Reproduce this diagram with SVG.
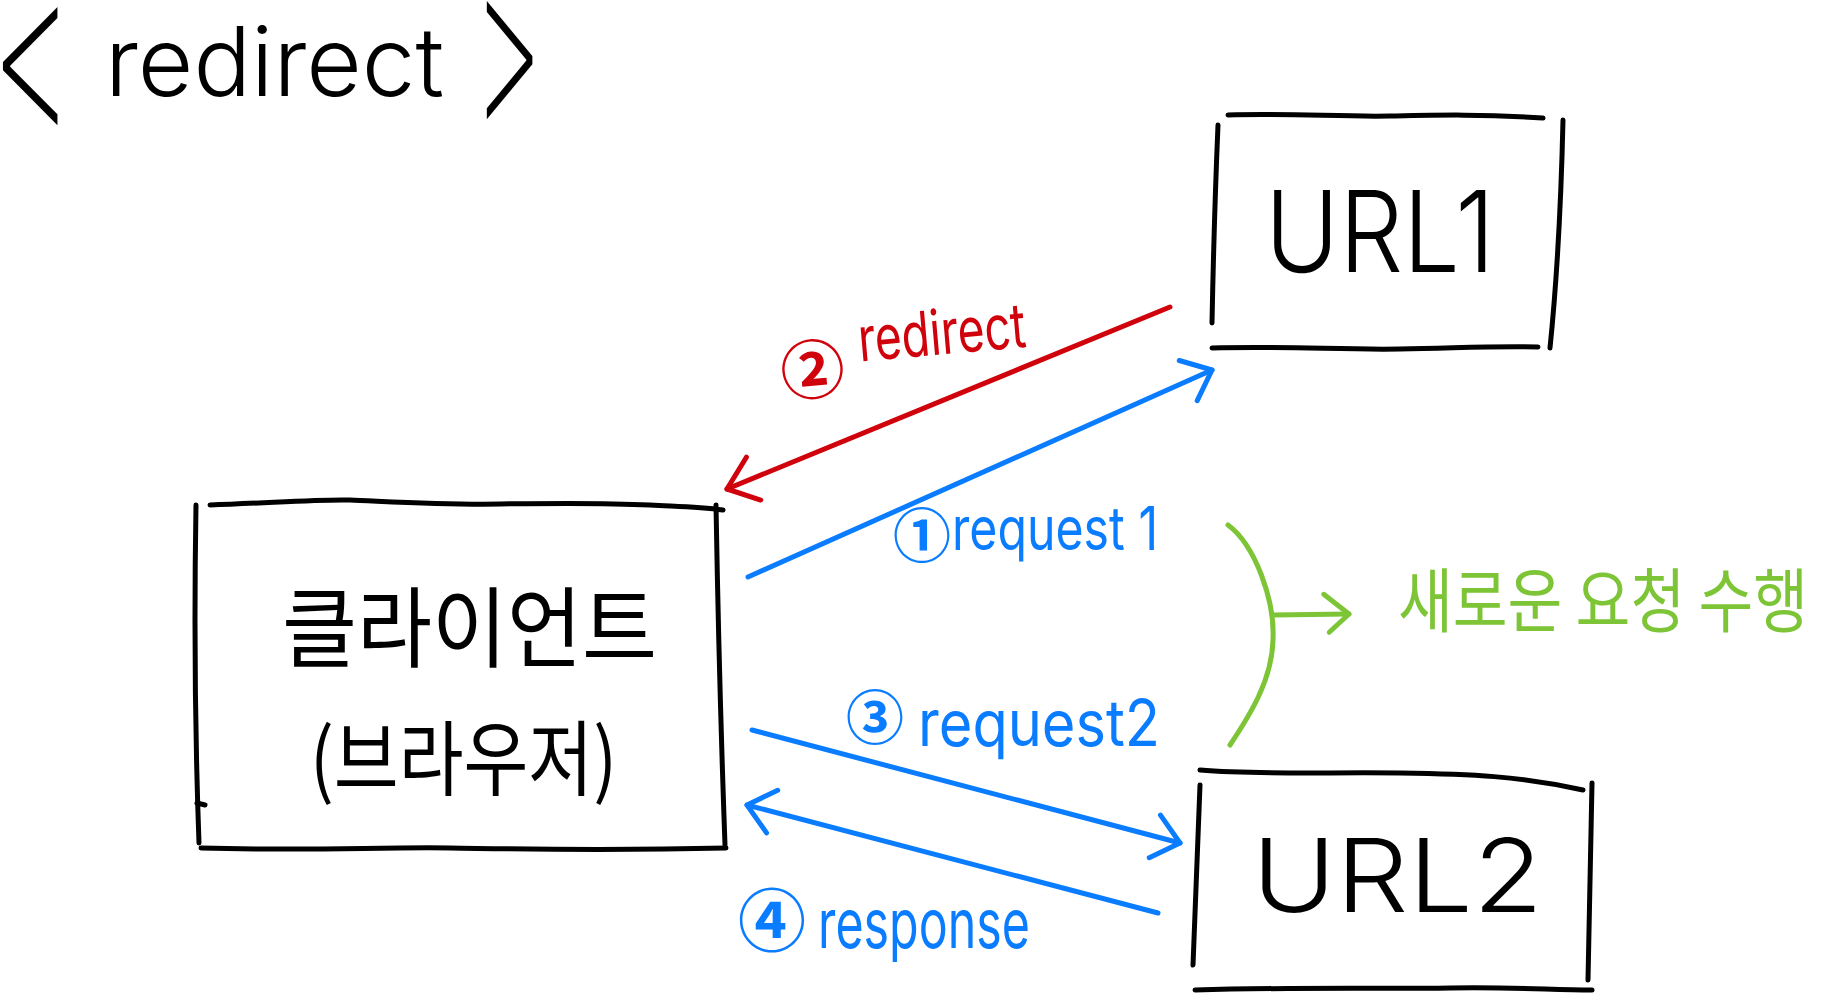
<svg xmlns="http://www.w3.org/2000/svg" width="1832" height="1000" viewBox="0 0 1832 1000">
<style>
.ink{fill:none;stroke:#000;stroke-width:5;stroke-linecap:round;stroke-linejoin:round}
.red{fill:none;stroke:#D0020B;stroke-width:5;stroke-linecap:round}
.blue{fill:none;stroke:#0A7CFF;stroke-width:5;stroke-linecap:round}
.green{fill:none;stroke:#7DC537;stroke-width:5;stroke-linecap:round}
.lat{font-family:Inter,"Liberation Sans",Arial,sans-serif;font-weight:400}
.thin{font-weight:300}
.kr{font-family:"Noto Sans CJK KR","Noto Sans",sans-serif;font-weight:400}
.num{font-family:"Noto Sans CJK KR","Noto Sans",sans-serif;font-weight:700}
.chev{font-family:Inter,"Liberation Sans",sans-serif;font-weight:200;font-size:240px;fill:#000}
.tk{fill:#000}
.tr{fill:#D0020B}
.tb{fill:#0A7CFF}
.tg{fill:#7DC537}
</style>
<defs>
<marker id="ah-red" viewBox="-40 -30 50 60" refX="0" refY="0" markerWidth="50" markerHeight="60" markerUnits="userSpaceOnUse" orient="auto">
<path d="M-27 -23 L0 0 L-30 22" fill="none" stroke="#D0020B" stroke-width="5" stroke-linecap="round" stroke-linejoin="round"/>
</marker>
<marker id="ah-blue" viewBox="-40 -30 50 60" refX="0" refY="0" markerWidth="50" markerHeight="60" markerUnits="userSpaceOnUse" orient="auto">
<path d="M-26 -22 L0 0 L-26 22" fill="none" stroke="#0A7CFF" stroke-width="5" stroke-linecap="round" stroke-linejoin="round"/>
</marker>
<marker id="ah-green" viewBox="-40 -30 50 60" refX="0" refY="0" markerWidth="50" markerHeight="60" markerUnits="userSpaceOnUse" orient="auto">
<path d="M-25 -20 L0 0 L-20 18" fill="none" stroke="#7DC537" stroke-width="5" stroke-linecap="round" stroke-linejoin="round"/>
</marker>
</defs>
<rect x="0" y="0" width="1832" height="1000" fill="#fff"/>

<g id="title">
<text class="chev" transform="translate(-10,129.5) scale(0.55,0.934)">&lt;</text>
<text class="lat thin tk" x="105" y="96" font-size="96" textLength="339" lengthAdjust="spacingAndGlyphs">redirect</text>
<text class="chev" transform="translate(472,123.5) scale(0.46,0.934)">&gt;</text>
</g>

<g id="url1">
<path class="ink" d="M1228 115 C1290 113 1340 117 1390 116 S1480 114 1543 118"/>
<path class="ink" d="M1218 125 Q1214 220 1212 323"/>
<path class="ink" d="M1563 120 Q1560 250 1550 348"/>
<path class="ink" d="M1212 348 C1290 346 1340 350 1400 349 S1490 346 1538 347"/>
<text class="lat thin tk" x="1265" y="272" font-size="113" textLength="230" lengthAdjust="spacingAndGlyphs">URL1</text>
</g>

<g id="client">
<path class="ink" d="M210 505 C270 503 320 499 350 500 S440 505 500 504 S610 503 650 505 S700 507 723 510"/>
<path class="ink" d="M196 505 Q193 680 199 843"/>
<path class="ink" d="M716 505 Q719 680 725 845"/>
<path class="ink" d="M201 848 C310 851 380 847 450 848 S600 851 726 848"/>
<path class="ink" d="M197 803 L205 805"/>
<text class="kr tk" x="282" y="660" font-size="88" textLength="375" lengthAdjust="spacingAndGlyphs">클라이언트</text>
<text class="kr tk" x="310" y="789" font-size="82" textLength="307" lengthAdjust="spacingAndGlyphs">(브라우저)</text>
</g>

<g id="url2">
<path class="ink" d="M1200 770 C1260 775 1330 772 1400 773 S1520 776 1583 790"/>
<path class="ink" d="M1200 785 L1193 965"/>
<path class="ink" d="M1592 783 Q1590 880 1588 980"/>
<path class="ink" d="M1195 990 C1300 987 1380 989 1450 988 S1550 990 1592 990"/>
<text class="lat thin tk" x="1252" y="912" font-size="102" textLength="291" lengthAdjust="spacingAndGlyphs">URL2</text>
</g>

<g id="note">
<text class="kr tg" x="1398" y="627" font-size="70" textLength="410" lengthAdjust="spacingAndGlyphs">새로운 요청 수행</text>
</g>

<g id="connectors">
<path class="red" d="M1170 307 L727 489" marker-end="url(#ah-red)"/>
<path class="blue" d="M748 577 L1212 370" marker-end="url(#ah-blue)"/>
<path class="blue" d="M752 730 L1180 843" marker-end="url(#ah-blue)"/>
<path class="blue" d="M1158 913 L747 805" marker-end="url(#ah-blue)"/>
<path class="green" d="M1228 525 C1255 545 1275 600 1273 640 C1272 680 1250 715 1230 745"/>
<path class="green" d="M1273 615 L1349 614" marker-end="url(#ah-green)"/>
<g id="label-redirect" transform="rotate(-5 900 360)">
<text class="num tr" x="812" y="386" font-size="64" text-anchor="middle">②</text>
<text class="lat tr" x="860" y="358" font-size="62" textLength="168" lengthAdjust="spacingAndGlyphs">redirect</text>
</g>
<g id="label-request1">
<text class="num tb" x="922" y="557" font-size="58" text-anchor="middle">①</text>
<text class="lat tb" x="952" y="550" font-size="60" textLength="206" lengthAdjust="spacingAndGlyphs">request 1</text>
</g>
<g id="label-request2">
<text class="num tb" x="875" y="739" font-size="58" text-anchor="middle">③</text>
<text class="lat tb" x="918" y="746" font-size="64" textLength="242" lengthAdjust="spacingAndGlyphs">request2</text>
</g>
<g id="label-response">
<text class="num tb" x="772" y="946" font-size="68" text-anchor="middle">④</text>
<text class="lat tb" x="818" y="948" font-size="68" textLength="212" lengthAdjust="spacingAndGlyphs">response</text>
</g>
</g>
</svg>
